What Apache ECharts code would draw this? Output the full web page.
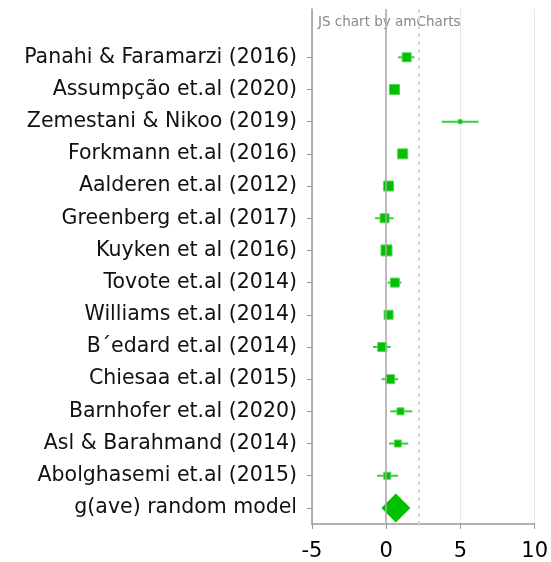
<!DOCTYPE html>
<html>
<head>
<meta charset="utf-8">
<script src="https://cdn.jsdelivr.net/npm/echarts@6/dist/echarts.min.js"></script>
<style>
  html, body { margin: 0; padding: 0; background: #fff; }
  #chart { width: 551px; height: 562px; }
</style>
</head>
<body>
<div id="chart"></div>
<script>
// studies, top to bottom
var studies = [
    'Panahi & Faramarzi (2016)', 'Assumpção et.al (2020)', 'Zemestani & Nikoo (2019)',
    'Forkmann et.al (2016)', 'Aalderen et.al (2012)', 'Greenberg et.al (2017)',
    'Kuyken et al (2016)', 'Tovote et.al (2014)', 'Williams et.al (2014)',
    'B\u00b4edard et.al (2014)', 'Chiesaa et.al (2015)', 'Barnhofer et.al (2020)',
    'Asl & Barahmand (2014)', 'Abolghasemi et.al (2015)'
];
var estimates = [1.38, 0.56, 4.98, 1.11, 0.16, -0.11, 0.02, 0.58, 0.16, -0.27, 0.27, 0.96, 0.78, 0.07];
var lower     = [0.80, 0.27, 3.73, 0.76, -0.05, -0.75, -0.25, 0.09, -0.15, -0.89, -0.31, 0.27, 0.18, -0.62];
var upper     = [1.89, 0.93, 6.22, 1.47, 0.40, 0.49, 0.30, 1.02, 0.45, 0.31, 0.80, 1.76, 1.49, 0.80];
var weights   = [9, 10, 4, 10, 10, 9, 11, 9, 9, 9, 9, 7, 7, 7];
var pooledName = 'g(ave) random model';
var pooled = 0.65;
var refLine = 2.22;
var xTicks = [-5, 0, 5, 10];

// empty first slot leaves room for the credit text
var categories = [''].concat(studies, [pooledName]);

var whiskers = studies.map(function (s, i) { return [lower[i], upper[i], s]; });
var points = studies.map(function (s, i) { return [estimates[i], s]; });

var green = '#00c000';

var option = {
    animation: false,
    grid: { left: 312, right: 14, top: 9, bottom: 37, containLabel: false },
    graphic: [{
        type: 'text', left: 318, top: 15,
        style: { text: 'JS chart by amCharts', fill: '#888', font: '13.5px "DejaVu Sans"' }
    }],
    xAxis: {
        type: 'value',
        min: xTicks[0], max: xTicks[xTicks.length - 1], interval: 5,
        axisLine: { show: true, lineStyle: { color: '#999', width: 1.5 } },
        axisTick: { show: true, length: 5, lineStyle: { color: '#999' } },
        axisLabel: { color: '#000', fontSize: 21, fontFamily: 'DejaVu Sans', margin: 17 },
        splitLine: { show: true, lineStyle: { color: '#e6e6e6', width: 1 } }
    },
    yAxis: {
        type: 'category',
        inverse: true,
        data: categories,
        axisLine: { show: true, onZero: false, lineStyle: { color: '#999', width: 1.5 } },
        axisTick: {
            show: true, alignWithLabel: true, length: 5,
            lineStyle: { color: '#999' },
            interval: function (i) { return i > 0; }
        },
        axisLabel: { color: '#111', fontSize: 20.5, fontFamily: 'DejaVu Sans', margin: 15 },
        splitLine: { show: false }
    },
    series: [
        {
            type: 'custom',
            z: 2,
            encode: { x: [0, 1], y: 2 },
            data: whiskers,
            renderItem: function (params, api) {
                var a = api.coord([api.value(0), api.value(2)]);
                var b = api.coord([api.value(1), api.value(2)]);
                return {
                    type: 'line',
                    shape: { x1: a[0], y1: a[1], x2: b[0], y2: b[1] },
                    style: { stroke: '#3fcb3f', lineWidth: 2 }
                };
            }
        },
        {
            type: 'scatter',
            z: 3,
            symbol: 'rect',
            data: points,
            symbolSize: function (val, p) { return weights[p.dataIndex]; },
            itemStyle: { color: green, borderColor: '#55d655', borderWidth: 1, opacity: 1 },
            markLine: {
                silent: true,
                symbol: 'none',
                label: { show: false },
                data: [
                    { xAxis: 0, lineStyle: { color: '#aaa', type: 'solid', width: 1.5 } },
                    { xAxis: refLine, lineStyle: { color: '#d8d8d8', type: [4, 4], width: 2 } }
                ]
            }
        },
        {
            type: 'scatter',
            z: 3,
            symbol: 'diamond',
            symbolSize: 29,
            data: [[pooled, pooledName]],
            itemStyle: { color: green, opacity: 1 }
        }
    ]
};

var chart = echarts.init(document.getElementById('chart'));
chart.setOption(option);
</script>
</body>
</html>
